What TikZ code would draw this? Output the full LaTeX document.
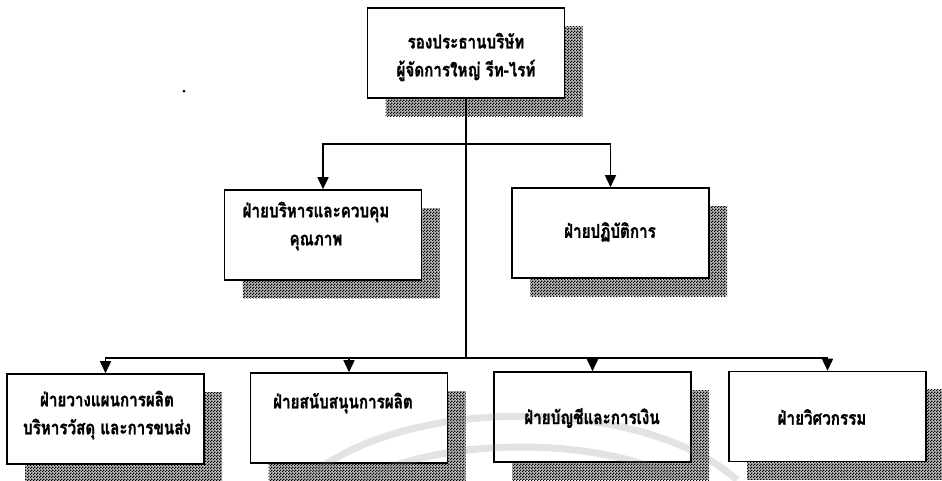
\documentclass[tikz,border=0pt]{standalone}
\usepackage{fontspec}
\newfontfamily\thaifont[Script=Thai,FakeStretch=0.8,BoldFeatures={FakeBold=1.2}]{Loma}
\usetikzlibrary{arrows.meta,patterns,shadows}

% fine dithered checker used for the drop shadows
\pgfdeclarepatternformonly{finechecker}{\pgfqpoint{0pt}{0pt}}{\pgfqpoint{3pt}{3pt}}{\pgfqpoint{3pt}{3pt}}{%
  \pgfpathrectangle{\pgfpointorigin}{\pgfqpoint{1.5pt}{1.5pt}}%
  \pgfpathrectangle{\pgfqpoint{1.5pt}{1.5pt}}{\pgfqpoint{1.5pt}{1.5pt}}%
  \pgfusepath{fill}}

\tikzset{
  unitbox/.style={draw, line width=1.6pt, fill=white, minimum width=197pt,
    minimum height=90pt, inner sep=0pt,
    general shadow={shadow xshift=18pt, shadow yshift=-18pt, fill=gray!55},
    general shadow={shadow xshift=18pt, shadow yshift=-18pt, pattern=finechecker, pattern color=black}},
  unittext/.style={font=\thaifont\bfseries\fontsize{19}{28}\selectfont, align=center, inner sep=0pt},
  link/.style={line width=1.8pt},
  linkarrow/.style={line width=1.6pt, -{Triangle[width=11pt,length=12pt]}},
  mark arc/.style={line width=7pt, gray, opacity=0.22}
}

\begin{document}
\begin{tikzpicture}[x=1pt,y=-1pt]
\useasboundingbox (0,0) rectangle (942,480);
\clip (0,0) rectangle (942,480);

% boxes
\node[unitbox] (top) at (466,53) {};
\node[unitbox] (ml) at (323,235) {};
\node[unitbox] (mr) at (610.5,233) {};
\node[unitbox] (b1) at (105.5,419) {};
\node[unitbox] (b2) at (349,418) {};
\node[unitbox] (b3) at (592.5,417) {};
\node[unitbox] (b4) at (827.5,416.5) {};

% junctions on the trunk
\coordinate (j1) at (466,144);
\coordinate (j2) at (466,358);

% connectors
\draw[link] (top.south) -- (j2);
\draw[linkarrow] (j1) -| (ml.north);
\draw[linkarrow] (j1) -| (mr.north);
\draw[linkarrow] (j2) -| (b1.north);
\draw[linkarrow] (j2) -| (b2.north);
\draw[linkarrow] (j2) -| (b3.north);
\draw[linkarrow] (j2) -| (b4.north);

% faint double arc across the lower row
\draw[mark arc] (305,480) .. controls (400,395) and (642,395) .. (737,480);
\draw[mark arc] (362,480) .. controls (440,436) and (602,436) .. (680,480);

% small speck
\fill (184,91) circle (1.5);

% labels
\node[unittext] (ttop) at (466,57) {รองประธานบริษัท\\ผู้จัดการใหญ่ รีท-ไรท์};
\node[unittext] (tml) at (316,226) {ฝ่ายบริหารและควบคุม\\คุณภาพ};
\node[unittext] (tmr) at (610,232) {ฝ่ายปฏิบัติการ};
\node[unittext] (tb1) at (107,415) {ฝ่ายวางแผนการผลิต\\บริหารวัสดุ และการขนส่ง};
\node[unittext] (tb2) at (343,403) {ฝ่ายสนับสนุนการผลิต};
\node[unittext] (tb3) at (592,418) {ฝ่ายบัญชีและการเงิน};
\node[unittext] (tb4) at (822,417) {ฝ่ายวิศวกรรม};
\end{tikzpicture}
\end{document}
